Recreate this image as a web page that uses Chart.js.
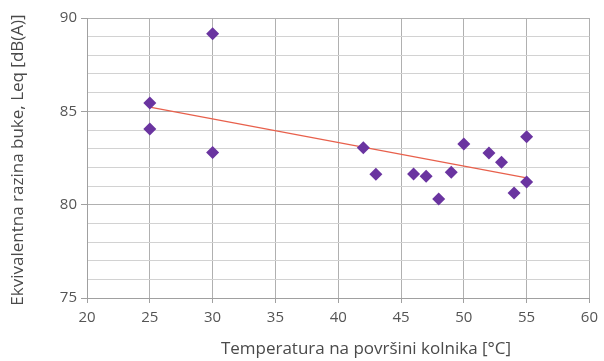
<!DOCTYPE html>
<html>
<head>
<meta charset="utf-8">
<script src="https://cdn.jsdelivr.net/npm/chart.js@4"></script>
<style>
  html, body { margin: 0; padding: 0; background: #fff; }
  #wrap { width: 604px; height: 361px; }
</style>
</head>
<body>
<div id="wrap"><canvas id="myChart" width="604" height="361"></canvas></div>
<script>
const temps = [25, 25, 30, 30, 42, 43, 46, 47, 48, 49, 50, 52, 53, 54, 55, 55];
const levels = [85.45, 84.05, 89.15, 82.8, 83.05, 81.63, 81.64, 81.52, 80.3, 81.73, 83.25, 82.77, 82.27, 80.62, 83.64, 81.21];
const trendX = [25, 55];
const trendY = [85.23, 81.43];

const xTitle = "Temperatura na površini kolnika [°C]";
const yTitle = "Ekvivalentna razina buke, Leq [dB(A)]";

const font = "'Open Sans', 'DejaVu Sans', sans-serif";

const titles = {
  id: "axisTitles",
  afterDraw(chart) {
    const c = chart.ctx;
    c.save();
    c.fillStyle = "#4a4a4a";
    c.font = "17px " + font;
    c.textAlign = "center";
    c.textBaseline = "middle";
    c.fillText(xTitle, 366, 349);
    c.translate(18, 160);
    c.rotate(-Math.PI / 2);
    c.fillText(yTitle, 0, 0);
    c.restore();
  }
};

const ctx1 = document.getElementById("myChart");

const chart1 = new Chart(ctx1, {
  type: "scatter",
  data: {
    datasets: [
      {
        label: "Leq",
        data: temps.map((t, i) => ({ x: t, y: levels[i] })),
        pointStyle: "rectRot",
        pointRadius: 6.5,
        backgroundColor: "#6a34a0",
        borderColor: "#6a34a0",
        borderWidth: 0,
        order: 1,
      },
      {
        label: "Trend",
        type: "line",
        data: trendX.map((t, i) => ({ x: t, y: trendY[i] })),
        borderColor: "#e8604c",
        borderWidth: 1.3,
        pointRadius: 0,
        fill: false,
        order: 2,
      },
    ],
  },
  options: {
    responsive: false,
    animation: false,
    layout: { padding: { top: 18, right: 12, left: 0, bottom: 0 } },
    plugins: {
      legend: { display: false },
      tooltip: { enabled: false },
    },
    scales: {
      x: {
        type: "linear",
        min: 20,
        max: 60,
        afterFit: (s) => { s.height = 63; },
        border: { color: "#a0a0a0", width: 1 },
        grid: {
          color: "#b0b0b0",
          tickLength: 5,
          tickColor: "#a0a0a0",
        },
        ticks: {
          stepSize: 5,
          autoSkip: false,
          padding: 6,
          color: "#555",
          font: { family: font, size: 15 },
        },
      },
      y: {
        min: 75,
        max: 90,
        afterFit: (s) => { s.width = 87; },
        border: { color: "#a0a0a0", width: 1 },
        grid: {
          color: (c) => (c.tick && c.tick.value % 5 === 0 ? "#b0b0b0" : "#d2d2d2"),
          tickLength: 6,
          tickColor: (c) => (c.tick && c.tick.value % 5 === 0 ? "#a0a0a0" : "rgba(0,0,0,0)"),
        },
        ticks: {
          stepSize: 1,
          autoSkip: false,
          padding: 4,
          color: "#555",
          font: { family: font, size: 15 },
          callback: (v) => (v % 5 === 0 ? v : ""),
        },
      },
    },
  },
  plugins: [titles],
});
</script>
</body>
</html>
